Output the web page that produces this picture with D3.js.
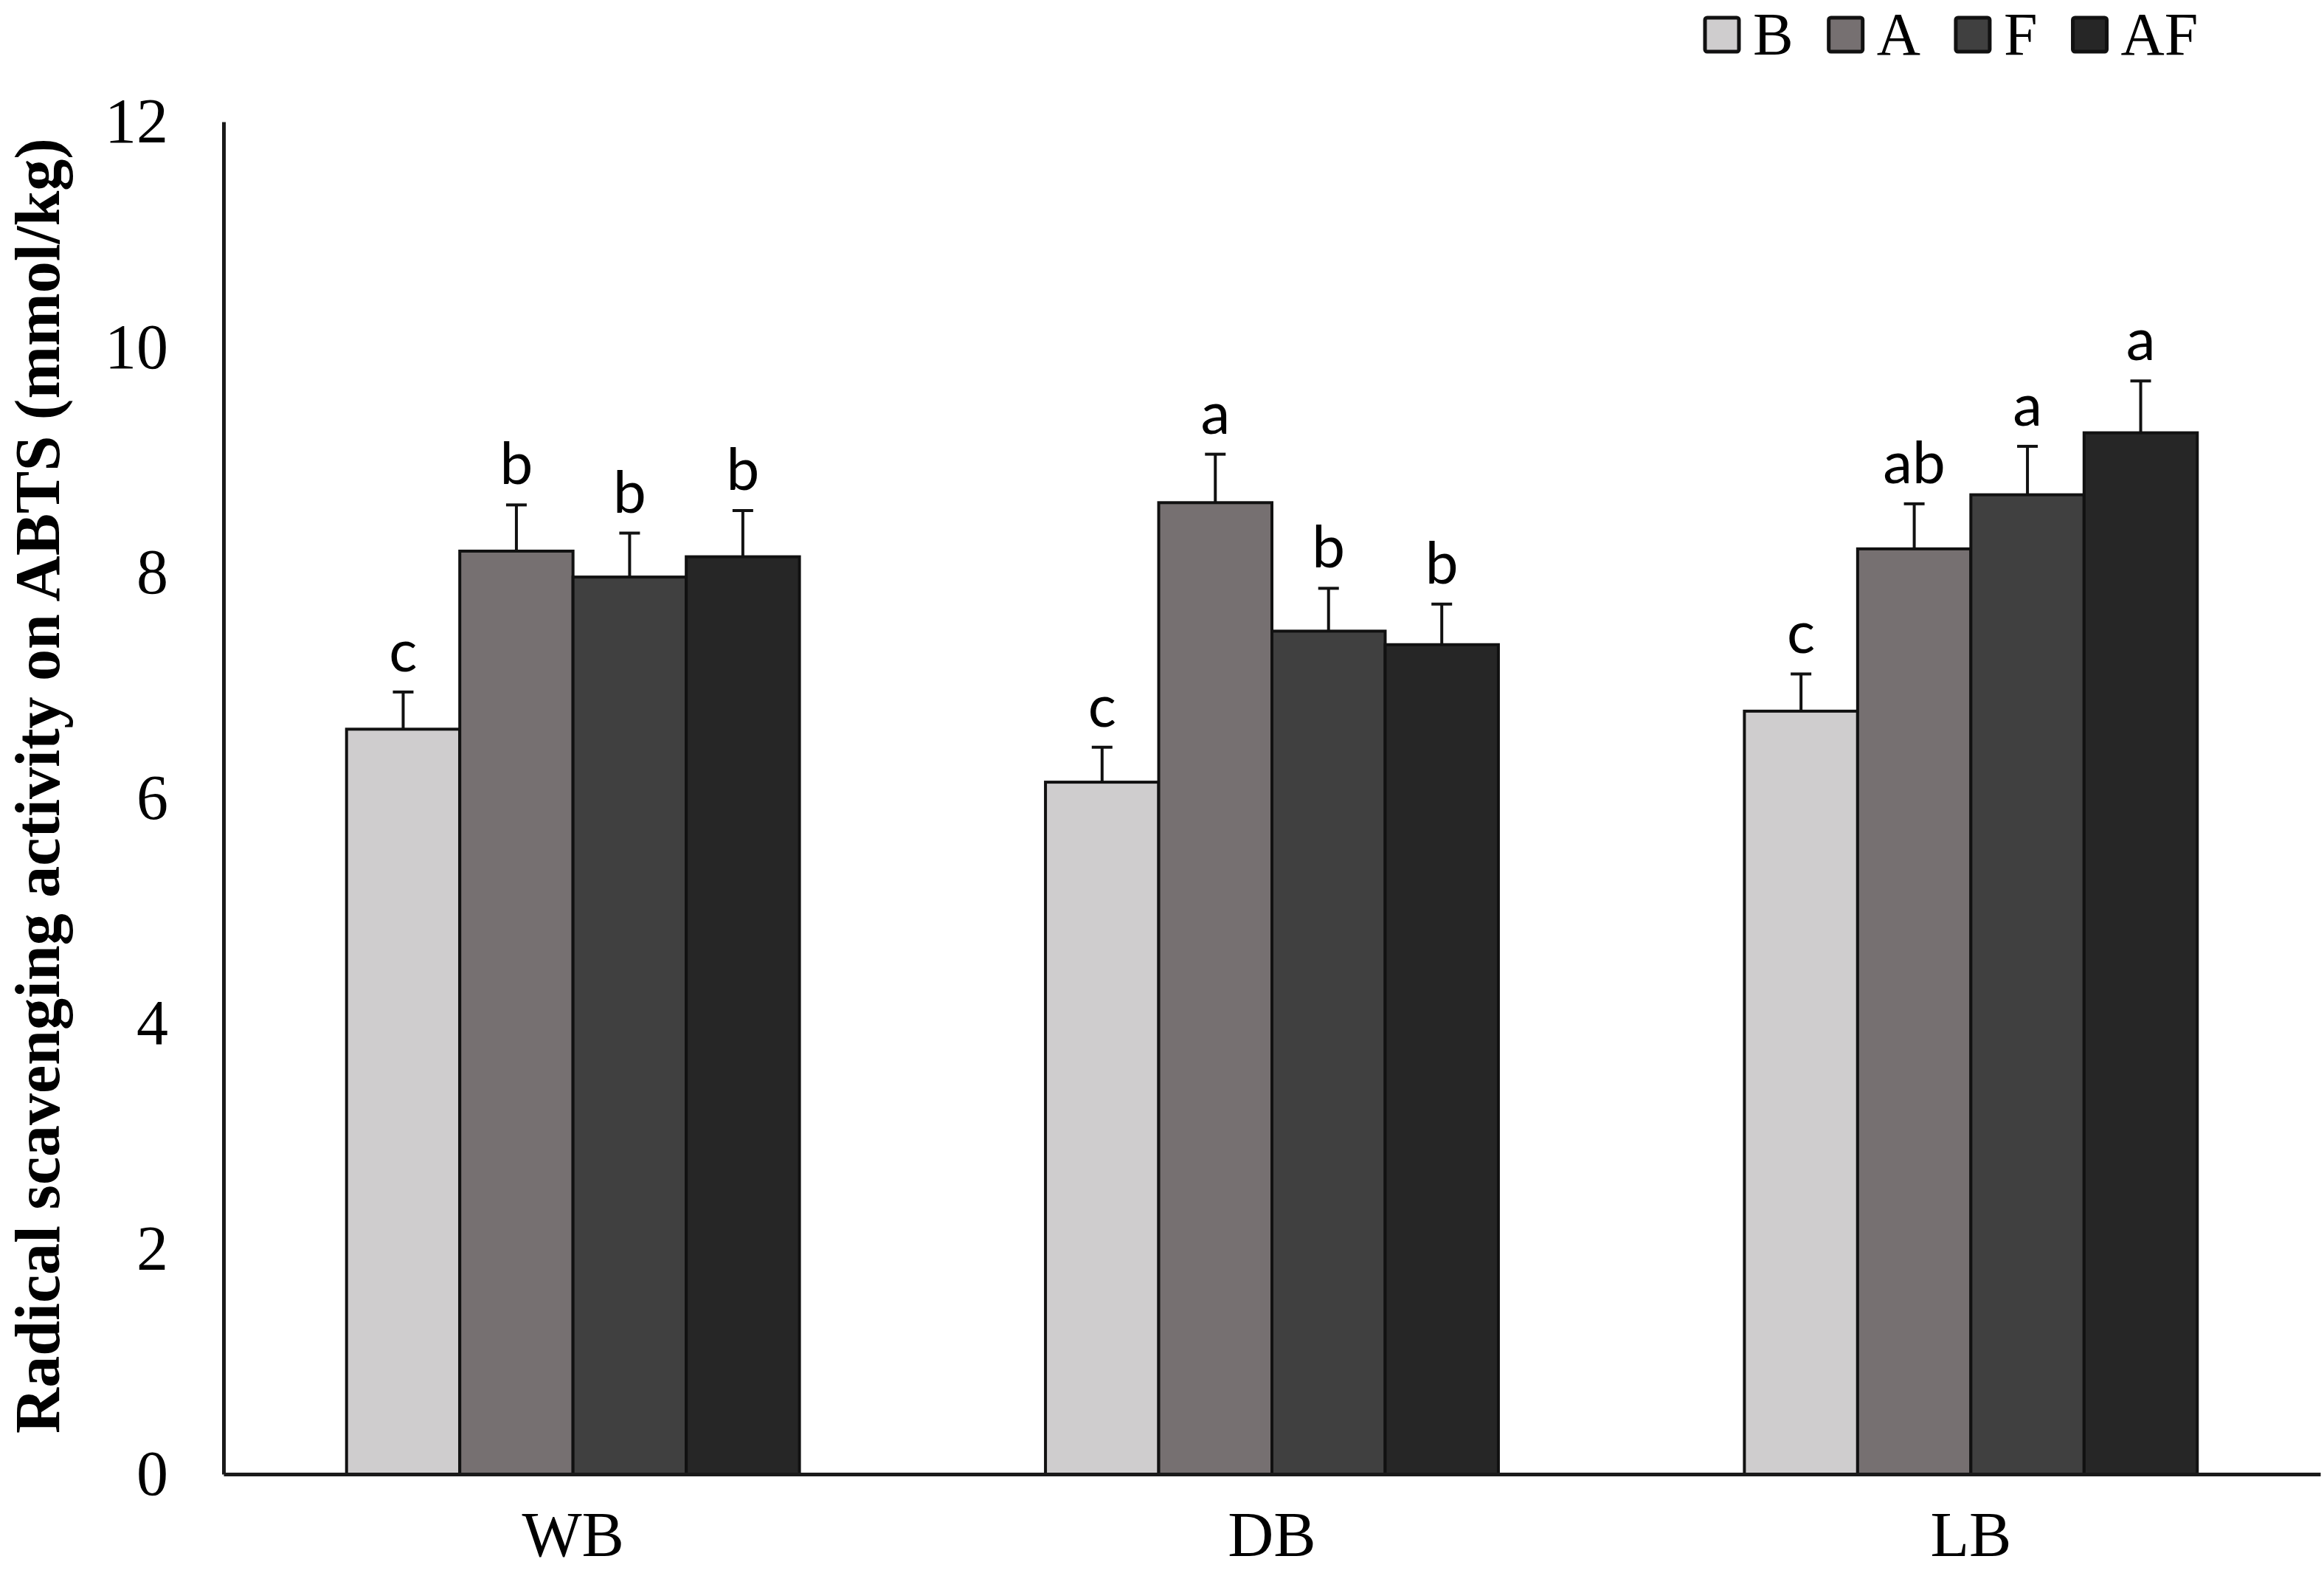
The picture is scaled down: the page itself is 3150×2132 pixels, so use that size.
<!DOCTYPE html>
<html>
<head>
<meta charset="utf-8">
<script src="https://cdn.jsdelivr.net/npm/d3@7"></script>
<style>
  body { margin: 0; background: #fff; }
  svg { display: block; }
</style>
</head>
<body>
<svg class="chart" width="3150" height="2132"></svg>
<script>
// values
var categories = ['WB', 'DB', 'LB'];
var series = ['B', 'A', 'F', 'AF'];
var meanB  = [6.61, 6.14, 6.77];
var meanA  = [8.19, 8.62, 8.21];
var meanF  = [7.96, 7.48, 8.69];
var meanAF = [8.14, 7.36, 9.24];
var errB  = [0.33, 0.31, 0.33];
var errA  = [0.41, 0.43, 0.40];
var errF  = [0.39, 0.38, 0.43];
var errAF = [0.41, 0.36, 0.46];
var letterB  = ['c', 'c', 'c'];
var letterA  = ['b', 'a', 'ab'];
var letterF  = ['b', 'b', 'a'];
var letterAF = ['b', 'b', 'a'];
var yTicks = [0, 2, 4, 6, 8, 10, 12];
var yTitle = 'Radical scavenging activity on ABTS (mmol/kg)';

var fills = ['#cfcdce', '#767071', '#404040', '#262626'];
var means = [meanB, meanA, meanF, meanAF];
var errs = [errB, errA, errF, errAF];
var letters = [letterB, letterA, letterF, letterAF];

var svg = d3.select('svg.chart'),
  margin = {top: 165, right: 5, bottom: 134, left: 303},
  width = +svg.attr('width'),
  height = +svg.attr('height');

var serif = '"Liberation Serif", "Times New Roman", serif';

var x0 = d3.scaleBand()
  .domain(categories)
  .range([margin.left, width - margin.right]);

// the four bars of a group fill about 65% of each category slot
var groupW = x0.bandwidth() * 0.648;
var x1 = d3.scaleBand()
  .domain(series)
  .range([0, groupW]);
var shift = (x0.bandwidth() - groupW) / 2;

var y = d3.scaleLinear()
  .domain([0, 12])
  .range([height - margin.bottom, margin.top]);

// flatten into one record per bar
var data = [];
categories.forEach(function(c, ci) {
  series.forEach(function(s, si) {
    data.push({cat: c, key: s, si: si, val: means[si][ci], err: errs[si][ci], letter: letters[si][ci]});
  });
});

var barX = function(d) { return x0(d.cat) + shift + x1(d.key); };
var barMid = function(d) { return barX(d) + x1.bandwidth() / 2; };

// bars
svg.append('g').selectAll('rect')
  .data(data)
  .enter().append('rect')
  .attr('x', barX)
  .attr('y', function(d) { return y(d.val); })
  .attr('width', x1.bandwidth())
  .attr('height', function(d) { return y(0) - y(d.val); })
  .attr('fill', function(d) { return fills[d.si]; })
  .attr('stroke', '#111')
  .attr('stroke-width', 4);

// error bars (upper only)
var eb = svg.append('g').attr('stroke', '#111').attr('stroke-width', 4);
eb.selectAll('line.stem')
  .data(data)
  .enter().append('line')
  .attr('class', 'stem')
  .attr('x1', barMid).attr('x2', barMid)
  .attr('y1', function(d) { return y(d.val); })
  .attr('y2', function(d) { return y(d.val + d.err); });
eb.selectAll('line.cap')
  .data(data)
  .enter().append('line')
  .attr('class', 'cap')
  .attr('x1', function(d) { return barMid(d) - 14; })
  .attr('x2', function(d) { return barMid(d) + 14; })
  .attr('y1', function(d) { return y(d.val + d.err); })
  .attr('y2', function(d) { return y(d.val + d.err); });

// significance letters
svg.append('g').selectAll('text')
  .data(data)
  .enter().append('text')
  .attr('x', barMid)
  .attr('y', function(d) { return y(d.val + d.err) - 28; })
  .attr('text-anchor', 'middle')
  .style('font-family', 'Lato, "Open Sans", sans-serif')
  .style('font-size', '80px')
  .style('fill', '#000')
  .text(function(d) { return d.letter; });

// y axis
var gy = svg.append('g')
  .attr('transform', 'translate(' + margin.left + ',0)')
  .call(d3.axisLeft(y)
    .tickValues(yTicks)
    .tickSize(0)
    .tickSizeOuter(0)
    .tickPadding(75));
gy.select('.domain').attr('stroke', '#1a1a1a').attr('stroke-width', 5);
gy.selectAll('text')
  .style('font-family', serif)
  .style('font-size', '86px')
  .attr('fill', '#000');

// x axis
var gx = svg.append('g')
  .attr('transform', 'translate(0,' + y(0) + ')')
  .call(d3.axisBottom(x0)
    .tickSize(0)
    .tickSizeOuter(0)
    .tickPadding(50));
gx.select('.domain').attr('stroke', '#1a1a1a').attr('stroke-width', 5);
gx.selectAll('text')
  .style('font-family', serif)
  .style('font-size', '86px')
  .attr('fill', '#000');

// y title
svg.append('text')
  .attr('transform', 'translate(80,1065) rotate(-90)')
  .attr('text-anchor', 'middle')
  .style('font-family', serif)
  .style('font-size', '86px')
  .style('font-weight', 'bold')
  .text(yTitle);

// legend, laid out left to right from the first square
var lx = 2311;
var legend = svg.append('g');
series.forEach(function(s, i) {
  legend.append('rect')
    .attr('x', lx).attr('y', 24)
    .attr('width', 46).attr('height', 46)
    .attr('rx', 3)
    .attr('fill', fills[i])
    .attr('stroke', '#111')
    .attr('stroke-width', 5);
  var t = legend.append('text')
    .attr('x', lx + 65).attr('y', 74)
    .style('font-family', serif)
    .style('font-size', '82px')
    .text(s);
  lx += 65 + t.node().getComputedTextLength() + 48;
});
</script>
</body>
</html>
